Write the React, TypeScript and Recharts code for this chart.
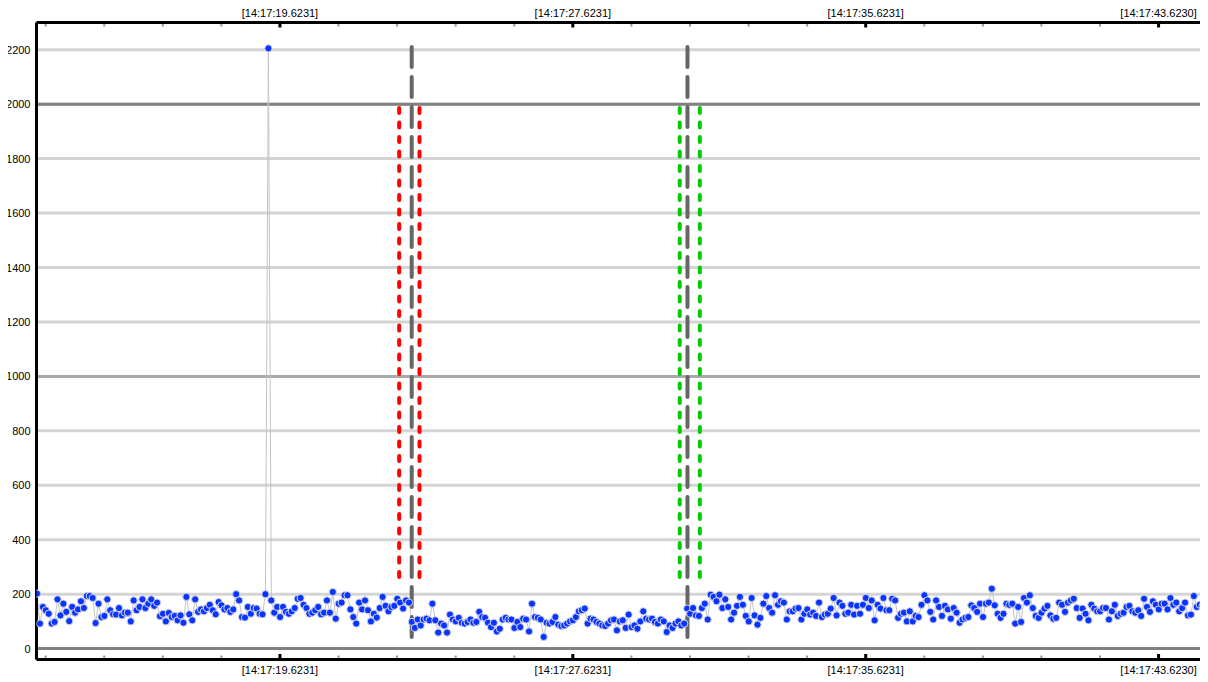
import React from 'react';
import { LineChart, Line, XAxis, YAxis, CartesianGrid, ReferenceLine } from 'recharts';

// ---- data ----
const seg1 = [
  202, 92, 153, 141, 128, 92, 98, 181, 122, 165,
  135, 101, 153, 132, 144, 174, 149, 193, 193, 186,
  94, 165, 116, 120, 181, 141, 126, 125, 149, 122,
  132, 132, 100, 177, 141, 153, 181, 149, 165, 181,
  157, 169, 119, 128, 100, 131, 116, 120, 104, 122,
  95, 190, 126, 104, 181, 135, 144, 137, 149, 161,
  141, 126, 171, 159, 144, 149, 135, 144, 200, 177,
  116, 114, 153, 128, 149, 147, 128, 126, 200,
];
const spike = [2205];
const seg2 = [
  177, 132, 153, 116, 153, 135, 128, 137, 149, 183,
  186, 161, 149, 128, 132, 141, 153, 126, 132, 177,
  132, 208, 110, 165, 169, 196, 196, 144, 116, 92,
  169, 144, 177, 141, 100, 128, 114, 149, 190, 157,
  137, 153, 157, 183, 169, 147, 177, 169,
];
const seg3 = [
  98, 76, 107, 85, 107, 110, 104, 165, 104, 59,
  92, 85, 59, 125, 107, 100, 113, 95, 92, 98,
  107, 95, 98, 135, 116, 113, 95, 79, 95, 63,
  73, 107,
];
const seg4 = [
  113, 107, 107, 76, 98, 79, 110, 107, 63, 165,
  116, 113, 107, 43, 95, 92, 98, 116, 88, 83,
  85, 92, 100, 104, 116, 137, 141, 147, 92, 110,
  107, 98, 92, 85, 83, 92, 104, 107, 67, 100,
  104, 76, 125, 79, 85, 73, 100, 137, 110, 107,
  110, 98, 92, 107, 100, 61, 85, 76, 92, 100,
  85, 92,
];
const seg5 = [
  147, 128, 149, 122, 120, 149, 165, 107, 198, 190,
  174, 198, 149, 181, 153, 107, 132, 157, 190,
];
const seg6 = [
  161, 120, 100, 186, 122, 88, 113, 165, 193, 149,
  132, 196, 161, 174, 169, 107, 137, 137, 147, 149,
  107, 128, 144, 125, 132, 120, 169, 116, 125, 128,
  147, 186, 122, 169, 157, 128, 132, 161, 125, 157,
  128, 161, 186, 149, 177, 104, 161, 147, 186, 141,
  141, 183, 177, 113, 128, 132, 100, 137, 100, 120,
  116, 161, 196, 177, 135, 107, 177, 153, 120, 157,
  144, 110, 149, 132, 95, 107, 113, 116, 159, 149,
];
const seg7 = [
  135, 165, 116, 165, 169, 220, 159, 128, 113, 128,
  165, 161, 165, 92, 153, 98, 186, 169, 196, 149,
  120, 113, 132, 147, 157, 122, 110, 113, 169, 161,
  135, 169, 177, 183, 149, 113, 147, 128, 104, 161,
  147, 137, 137, 149, 149, 107, 137, 161, 120, 128,
  132, 153, 157, 137, 132, 141, 120, 183, 153, 135,
  174, 161, 144, 165, 165, 144, 186, 161, 169, 137,
  149, 169, 122, 125, 193, 153, 161, 157, 149,
];

const values = [...seg1, ...spike, ...seg2, ...seg3, ...seg4, ...seg5, ...seg6, ...seg7];
const START_TIME = 12.987; // seconds after 14:17:00
const SAMPLE_PERIOD = 0.08;
const data = values.map((v, i) => ({ t: START_TIME + i * SAMPLE_PERIOD, v }));

const xDomain = [12.973, 44.973];
const xTicks = [
  13.2231, 14.8231, 16.4231, 18.0231, 19.6231, 21.2231, 22.8231, 24.4231, 26.0231, 27.6231,
  29.2231, 30.8231, 32.4231, 34.0231, 35.6231, 37.2231, 38.8231, 40.4231, 42.0231, 43.623,
];
const majorTicks = [19.6231, 27.6231, 35.6231, 43.623];
const majorTickLabels = ['[14:17:19.6231]', '[14:17:27.6231]', '[14:17:35.6231]', '[14:17:43.6230]'];
const yTicks = [0, 200, 400, 600, 800, 1000, 1200, 1400, 1600, 1800, 2000, 2200];
const yDarkLines = [0, 2000];
const yMidLines = [1000];

// markers (times in seconds, value ranges)
const markerLines = [23.222, 30.755];
const markerRange = [2210, 40];
const redLines = [22.88, 23.435];
const greenLines = [30.543, 31.092];
const sideRange = [1986, 263];

const FONT = '"Liberation Sans", Arial, sans-serif';

const majorIndex = (v: number) => majorTicks.findIndex((m) => Math.abs(m - v) < 1e-3);

function TopTick(props: any) {
  const { x, y, payload } = props;
  const idx = majorIndex(payload.value);
  if (idx >= 0) {
    return (
      <g>
        <rect x={x - 1.5} y={y} width={3} height={5} fill="#000" />
        <text x={x} y={y - 5.5} textAnchor="middle" fontSize={11} fontFamily={FONT} fill="#000">
          {majorTickLabels[idx]}
        </text>
      </g>
    );
  }
  return <rect x={x - 1} y={y + 1.5} width={2} height={2.5} fill="#9a9a9a" />;
}

function BottomTick(props: any) {
  const { x, y, payload } = props;
  const idx = majorIndex(payload.value);
  if (idx >= 0) {
    return (
      <g>
        <rect x={x - 1.5} y={y - 5.5} width={3} height={5.5} fill="#000" />
        <text x={x} y={y + 14.5} textAnchor="middle" fontSize={11} fontFamily={FONT} fill="#000">
          {majorTickLabels[idx]}
        </text>
      </g>
    );
  }
  return <rect x={x - 1} y={y - 4} width={2} height={2.5} fill="#9a9a9a" />;
}

function LeftTick(props: any) {
  const { x, y, payload } = props;
  return (
    <text x={x} y={y} dy={4} textAnchor="end" fontSize={11} fontFamily={FONT} fill="#000">
      {payload.value}
    </text>
  );
}

export default function App() {
  return (
    <div style={{ margin: '-8px 0 0 -8px', width: 1208, height: 682 }}>
      <LineChart width={1208} height={682} data={data} margin={{ top: 8, right: 0, bottom: 0, left: 8 }}>
        <CartesianGrid vertical={false} stroke="#d4d4d4" strokeWidth={3} yAxisId="y" xAxisId="bottom" />
        <XAxis
          xAxisId="top"
          orientation="top"
          dataKey="t"
          type="number"
          domain={xDomain}
          allowDataOverflow
          ticks={xTicks}
          interval={0}
          height={14.5}
          tickSize={0}
          tickMargin={0}
          tickLine={false}
          axisLine={{ stroke: '#000', strokeWidth: 3 }}
          tick={(p: any) => <TopTick {...p} />}
        />
        <XAxis
          xAxisId="bottom"
          orientation="bottom"
          dataKey="t"
          type="number"
          domain={xDomain}
          allowDataOverflow
          ticks={xTicks}
          interval={0}
          height={22.5}
          tickSize={0}
          tickMargin={0}
          tickLine={false}
          axisLine={{ stroke: '#000', strokeWidth: 3 }}
          tick={(p: any) => <BottomTick {...p} />}
        />
        <YAxis
          yAxisId="y"
          type="number"
          domain={[-40, 2300]}
          allowDataOverflow
          ticks={yTicks}
          interval={0}
          width={28.5}
          tickLine={false}
          tickSize={4}
          tickMargin={2}
          axisLine={{ stroke: '#000', strokeWidth: 3 }}
          tick={(p: any) => <LeftTick {...p} />}
        />
        {yMidLines.map((v) => (
          <ReferenceLine key={'m' + v} xAxisId="bottom" yAxisId="y" y={v} stroke="#a8a8a8" strokeWidth={3} />
        ))}
        {yDarkLines.map((v) => (
          <ReferenceLine key={'h' + v} xAxisId="bottom" yAxisId="y" y={v} stroke="#808080" strokeWidth={3} />
        ))}
        <Line
          xAxisId="bottom"
          yAxisId="y"
          type="linear"
          dataKey="v"
          stroke="#c4c4c4"
          strokeWidth={1}
          dot={{ r: 3.6, fill: '#0a34ff', stroke: '#d6d6e6', strokeWidth: 1 }}
          activeDot={false}
          isAnimationActive={false}
        />
        {redLines.map((t) => (
          <ReferenceLine
            key={'r' + t}
            xAxisId="bottom"
            yAxisId="y"
            segment={[{ x: t, y: sideRange[0] }, { x: t, y: sideRange[1] }]}
            stroke="#ff0000"
            strokeWidth={4}
            strokeDasharray="5 9.5"
            strokeLinecap="round"
          />
        ))}
        {greenLines.map((t) => (
          <ReferenceLine
            key={'g' + t}
            xAxisId="bottom"
            yAxisId="y"
            segment={[{ x: t, y: sideRange[0] }, { x: t, y: sideRange[1] }]}
            stroke="#00cc00"
            strokeWidth={4}
            strokeDasharray="5 9.5"
            strokeLinecap="round"
          />
        ))}
        {markerLines.map((t) => (
          <ReferenceLine
            key={'k' + t}
            xAxisId="bottom"
            yAxisId="y"
            segment={[{ x: t, y: markerRange[0] }, { x: t, y: markerRange[1] }]}
            stroke="#666666"
            strokeWidth={4}
            strokeDasharray="20 10"
            strokeLinecap="round"
          />
        ))}
      </LineChart>
    </div>
  );
}
